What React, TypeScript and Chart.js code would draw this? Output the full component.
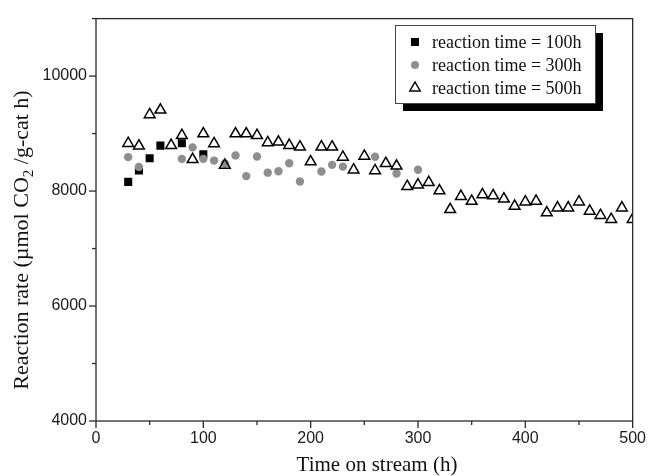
import React, { useEffect, useRef } from 'react';
import { Chart, registerables } from 'chart.js';

Chart.register(...registerables);

const time100 = [30, 40, 50, 60, 80, 100];
const rate100 = [8160, 8360, 8570, 8790, 8830, 8640];

const time300 = [30, 40, 80, 90, 100, 110, 120, 130, 140, 150, 160, 170, 180, 190, 210, 220, 230, 260, 280, 300];
const rate300 = [8590, 8420, 8560, 8760, 8560, 8530, 8480, 8620, 8260, 8600, 8320, 8345, 8485, 8165, 8340, 8455, 8425, 8597, 8305, 8370];

const time500 = [30, 40, 50, 60, 70, 80, 90, 100, 110, 120, 130, 140, 150, 160, 170, 180, 190, 200, 210, 220, 230, 240, 250, 260, 270, 280, 290, 300, 310, 320, 330, 340, 350, 360, 370, 380, 390, 400, 410, 420, 430, 440, 450, 460, 470, 480, 490, 500];
const rate500 = [8830, 8785, 9330, 9410, 8796, 8968, 8550, 8997, 8825, 8450, 8997, 8997, 8968, 8842, 8854, 8796, 8768, 8510, 8768, 8768, 8590, 8368, 8608, 8356, 8481, 8436, 8081, 8109, 8150, 8006, 7680, 7909, 7824, 7937, 7920, 7863, 7737, 7812, 7824, 7623, 7709, 7709, 7812, 7652, 7577, 7508, 7709, 7508];

const xTickLabels = ['0', '100', '200', '300', '400', '500'];
const yTickLabels = ['4000', '6000', '8000', '10000'];
const legendLabels = ['reaction time = 100h', 'reaction time = 300h', 'reaction time = 500h'];
const xTitle = 'Time on stream (h)';
const yTitleParts = ['Reaction rate (\u00B5mol CO', '2', ' /g-cat h)'];

const SERIF = '"Liberation Serif", "Times New Roman", serif';
const SANS = '"Liberation Sans", Arial, sans-serif';
const GRAY = '#8e8e8e';

function pts(xs: number[], ys: number[]) {
  return xs.map((x, i) => ({ x, y: ys[i] }));
}

function drawMarker(ctx: CanvasRenderingContext2D, kind: number, x: number, y: number) {
  ctx.save();
  if (kind === 0) {
    ctx.fillStyle = '#000';
    ctx.fillRect(x - 4, y - 4, 8, 8);
  } else if (kind === 1) {
    ctx.fillStyle = GRAY;
    ctx.beginPath();
    ctx.arc(x, y, 4, 0, Math.PI * 2);
    ctx.fill();
  } else {
    const r = 6;
    ctx.strokeStyle = '#000';
    ctx.lineWidth = 1.5;
    ctx.beginPath();
    ctx.moveTo(x, y - r);
    ctx.lineTo(x + 0.866 * r, y + 0.5 * r);
    ctx.lineTo(x - 0.866 * r, y + 0.5 * r);
    ctx.closePath();
    ctx.stroke();
  }
  ctx.restore();
}

const framePlugin = {
  id: 'frame',
  afterDraw(chart: any) {
    const { ctx, chartArea: a, scales } = chart;
    const xs = scales.x;
    const ys = scales.y;
    ctx.save();
    ctx.strokeStyle = '#2a2a2a';
    ctx.lineWidth = 1.3;
    ctx.strokeRect(a.left, a.top, a.right - a.left, a.bottom - a.top);
    xs.ticks.forEach((t: any) => {
      const px = xs.getPixelForValue(t.value);
      const major = t.value % 100 === 0;
      ctx.beginPath();
      ctx.moveTo(px, a.bottom);
      ctx.lineTo(px, a.bottom + (major ? 7 : 4));
      ctx.stroke();
    });
    ys.ticks.forEach((t: any) => {
      const py = ys.getPixelForValue(t.value);
      const major = t.value % 2000 === 0;
      ctx.beginPath();
      ctx.moveTo(a.left, py);
      ctx.lineTo(a.left - (major ? 7 : 4), py);
      ctx.stroke();
    });

    // axis titles
    ctx.fillStyle = '#111';
    ctx.font = '21px ' + SERIF;
    ctx.textAlign = 'center';
    ctx.textBaseline = 'alphabetic';
    ctx.fillText(xTitle, 377, 471);

    ctx.save();
    ctx.translate(28, 240);
    ctx.rotate(-Math.PI / 2);
    ctx.textAlign = 'left';
    const big = '22px ' + SERIF;
    const small = '15px ' + SERIF;
    ctx.font = big;
    const w0 = ctx.measureText(yTitleParts[0]).width;
    const w2 = ctx.measureText(yTitleParts[2]).width;
    ctx.font = small;
    const w1 = ctx.measureText(yTitleParts[1]).width;
    let sx = -(w0 + w1 + w2) / 2;
    ctx.font = big;
    ctx.fillText(yTitleParts[0], sx, 0);
    sx += w0;
    ctx.font = small;
    ctx.fillText(yTitleParts[1], sx, 5);
    sx += w1;
    ctx.font = big;
    ctx.fillText(yTitleParts[2], sx, 0);
    ctx.restore();

    // legend
    const lx = 395, ly = 25, lw = 200, lh = 78;
    ctx.fillStyle = '#000';
    ctx.fillRect(lx + 8, ly + 8, lw, lh);
    ctx.fillStyle = '#fff';
    ctx.fillRect(lx, ly, lw, lh);
    ctx.strokeStyle = '#444';
    ctx.lineWidth = 1;
    ctx.strokeRect(lx + 0.5, ly + 0.5, lw, lh);
    ctx.font = '18px ' + SERIF;
    ctx.textAlign = 'left';
    ctx.textBaseline = 'middle';
    legendLabels.forEach((lab, i) => {
      const yy = ly + 17 + i * 23;
      drawMarker(ctx, i, lx + 20, yy);
      ctx.fillStyle = '#111';
      ctx.fillText(lab, lx + 37, yy + 1);
    });
    ctx.restore();
  },
};

export default function App() {
  const ref = useRef<HTMLCanvasElement | null>(null);
  useEffect(() => {
    if (!ref.current) return;
    const chart = new Chart(ref.current, {
      type: 'scatter',
      data: {
        datasets: [
          {
            label: legendLabels[0],
            data: pts(time100, rate100),
            pointStyle: 'rect',
            pointRadius: 5.7,
            backgroundColor: '#000',
            borderColor: '#000',
            borderWidth: 0,
            order: 3,
            clip: 0,
          },
          {
            label: legendLabels[1],
            data: pts(time300, rate300),
            pointStyle: 'circle',
            pointRadius: 4.2,
            backgroundColor: GRAY,
            borderColor: GRAY,
            borderWidth: 0,
            order: 2,
            clip: 0,
          },
          {
            label: legendLabels[2],
            data: pts(time500, rate500),
            pointStyle: 'triangle',
            pointRadius: 6.2,
            backgroundColor: 'rgba(255,255,255,0)',
            borderColor: '#000',
            borderWidth: 1.5,
            order: 1,
            clip: 0,
          },
        ] as any,
      },
      options: {
        animation: false,
        responsive: false,
        events: [],
        layout: { padding: { top: 12, right: 17, left: 0, bottom: 0 } },
        plugins: { legend: { display: false }, tooltip: { enabled: false } },
        scales: {
          x: {
            type: 'linear',
            min: 0,
            max: 500,
            grid: { display: false, drawTicks: false },
            border: { display: false },
            ticks: {
              stepSize: 50,
              autoSkip: false,
              maxRotation: 0,
              padding: 8,
              color: '#1a1a1a',
              font: { family: SANS, size: 16 },
              callback: (v: any) => (Number(v) % 100 === 0 ? xTickLabels[Number(v) / 100] : ''),
            },
            afterFit: (s: any) => {
              s.height = 55;
            },
          },
          y: {
            type: 'linear',
            min: 4000,
            max: 11000,
            grid: { display: false, drawTicks: false },
            border: { display: false },
            ticks: {
              stepSize: 1000,
              autoSkip: false,
              padding: 9,
              color: '#1a1a1a',
              font: { family: SANS, size: 16 },
              callback: (v: any) => (Number(v) % 2000 === 0 ? yTickLabels[(Number(v) - 4000) / 2000] : ''),
            },
            afterFit: (s: any) => {
              s.width = 96;
            },
          },
        },
      } as any,
      plugins: [framePlugin],
    });
    return () => chart.destroy();
  }, []);
  return (
    <div style={{ position: 'absolute', left: 0, top: 0, width: 654, height: 476, background: '#fff' }}>
      <canvas ref={ref} width={654} height={476} style={{ width: 654, height: 476 }} />
    </div>
  );
}
